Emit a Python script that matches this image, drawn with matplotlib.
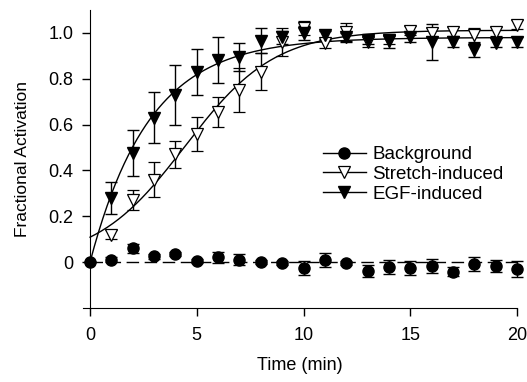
import numpy as np
import matplotlib
matplotlib.use("Agg")
import matplotlib.pyplot as plt
from matplotlib.lines import Line2D

plt.rcParams["font.family"] = ["Liberation Sans", "DejaVu Sans"]

# time points (min)
time = list(range(0, 21))

# background (no stimulus)
bg_mean = [0.0, 0.01, 0.06, 0.025, 0.035, 0.005, 0.02, 0.01, 0.0, -0.005, -0.027,
           0.01, -0.005, -0.04, -0.02, -0.027, -0.017, -0.042, -0.01, -0.017, -0.03]
bg_err = [0.0, 0.01, 0.02, 0.01, 0.01, 0.01, 0.025, 0.025, 0.01, 0.01, 0.03,
          0.03, 0.01, 0.025, 0.03, 0.03, 0.03, 0.02, 0.03, 0.025, 0.035]

# stretch-induced
st_mean = [0.0, 0.12, 0.27, 0.36, 0.47, 0.56, 0.655, 0.75, 0.83, 0.96, 1.02,
           0.955, 1.005, 0.96, 0.97, 1.01, 1.0, 1.005, 0.99, 1.005, 1.035]
st_err = [0.0, 0.02, 0.045, 0.075, 0.06, 0.075, 0.065, 0.095, 0.08, 0.06, 0.03,
          0.02, 0.04, 0.02, 0.02, 0.02, 0.02, 0.02, 0.03, 0.02, 0.02]

# EGF-induced
egf_mean = [0.0, 0.28, 0.476, 0.63, 0.73, 0.83, 0.88, 0.895, 0.965, 0.98, 1.0,
            0.99, 0.98, 0.97, 0.965, 0.98, 0.96, 0.96, 0.925, 0.957, 0.96]
egf_err = [0.0, 0.07, 0.1, 0.11, 0.13, 0.1, 0.1, 0.06, 0.055, 0.03, 0.03,
           0.02, 0.02, 0.02, 0.03, 0.02, 0.08, 0.02, 0.03, 0.02, 0.02]


def fit_curve(t, y, shape, p1_range, p2_range):
    # least squares on a grid, amplitude solved directly
    best = None
    for p1 in p1_range:
        for p2 in p2_range:
            f = shape(t, p1, p2)
            a = np.sum(f * y) / np.sum(f * f)
            err = np.sum((a * f - y) ** 2)
            if best is None or err < best[0]:
                best = (err, a, p1, p2)
    return best[1:]


def rise(t, k, _):
    return 1 - np.exp(-k * t)


def sigmoid(t, t0, b):
    return 1 / (1 + np.exp(-(t - t0) / b))


t = np.array(time, dtype=float)
a1, k1, _ = fit_curve(t, np.array(egf_mean), rise, np.linspace(0.1, 1.0, 181), [0])
a2, t0, b2 = fit_curve(t[1:], np.array(st_mean[1:]), sigmoid,
                       np.linspace(2, 7, 101), np.linspace(1, 4, 61))
tt = np.linspace(0, 20, 300)

fig = plt.figure(figsize=(5.27, 3.82), dpi=100)
ax = fig.add_axes([0.1575, 0.194, 0.8235, 0.78])

ax.plot(tt, a1 * rise(tt, k1, 0), color="black", lw=1)
ax.plot(tt, a2 * sigmoid(tt, t0, b2), color="black", lw=1)
ax.plot([0, 20], [0, 0], color="black", lw=1, dashes=(9, 4))

ekw = dict(ecolor="black", elinewidth=1, capsize=4.5, capthick=1, clip_on=False)
ax.errorbar(time, bg_mean, yerr=bg_err, fmt="o", color="black", ms=8, **ekw)
ax.errorbar(time[1:], st_mean[1:], yerr=st_err[1:], fmt="v", mfc="white",
            mec="black", color="black", ms=8.5, mew=0.9, **ekw)
ax.errorbar(time[1:], egf_mean[1:], yerr=egf_err[1:], fmt="v", color="black",
            ms=8.5, **ekw)

for c in ax.collections + ax.lines:
    c.set_clip_on(False)

ax.set_xlim(-0.33, 20)
ax.set_ylim(-0.2, 1.1)
ax.spines["left"].set_position(("data", 0))
ax.spines["top"].set_visible(False)
ax.spines["right"].set_visible(False)
ax.set_xticks([0, 5, 10, 15, 20])
ax.set_yticks([0, 0.2, 0.4, 0.6, 0.8, 1.0])
ax.set_yticklabels(["0", "0.2", "0.4", "0.6", "0.8", "1.0"])
ax.tick_params(labelsize=13, length=6, width=1, direction="out")
ax.tick_params(axis="x", pad=8)
ax.tick_params(axis="y", pad=6)
ax.set_xlabel("Time (min)", fontsize=13, labelpad=9)
ax.set_ylabel("Fractional Activation", fontsize=12.5, labelpad=13)

handles = [
    Line2D([], [], color="black", marker="o", ms=8, lw=1),
    Line2D([], [], color="black", marker="v", ms=8.5, mfc="white", lw=1, mew=0.9),
    Line2D([], [], color="black", marker="v", ms=8.5, lw=1),
]
ax.legend(handles, ["Background", "Stretch-induced", "EGF-induced"],
          loc="upper left", bbox_to_anchor=(0.513, 0.6), frameon=False,
          fontsize=13.5, handlelength=2.3, handletextpad=0.35, labelspacing=0.15)

fig.savefig("out.png", dpi=100)
